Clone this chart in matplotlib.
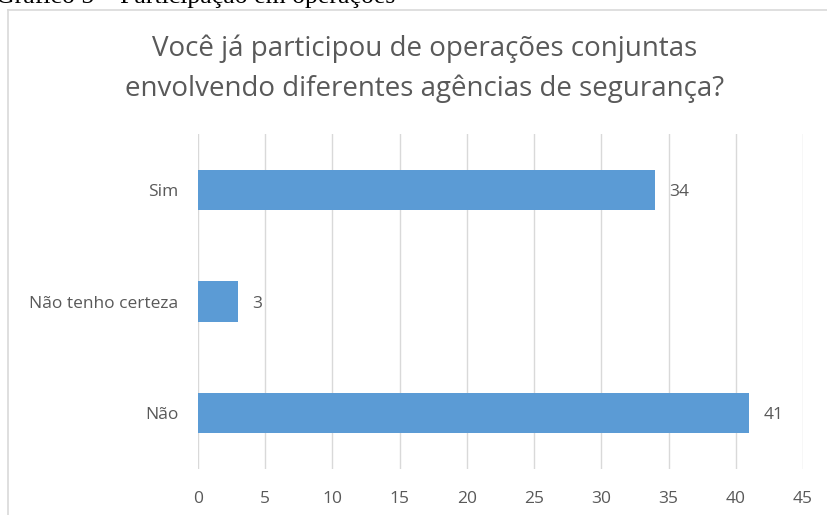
import matplotlib.pyplot as plt
from matplotlib.lines import Line2D

# dados do gráfico
categorias = ['Não', 'Não tenho certeza', 'Sim']
valores = [41, 3, 34]
ticks_x = [0, 5, 10, 15, 20, 25, 30, 35, 40, 45]

cinza = '#595959'
azul = '#5B9BD5'

fig = plt.figure(figsize=(8.27, 5.15), dpi=100)
ax = fig.add_axes([198 / 827, 1 - 469 / 515, (803 - 198) / 827, (469 - 134) / 515])

ax.barh(categorias, valores, height=0.36, color=azul, zorder=3)
for i, v in enumerate(valores):
    ax.text(v + 1.05, i, str(v), va='center_baseline', ha='left', fontsize=12.5,
            color=cinza, family='Open Sans')

ax.set_xlim(0, 45)
ax.set_ylim(-0.5, 2.5)
ax.set_xticks(ticks_x)
ax.grid(axis='x', color='#d9d9d9', linewidth=1, zorder=0)
for s in ax.spines.values():
    s.set_visible(False)
ax.tick_params(axis='both', length=0, colors=cinza, labelsize=12.5)
ax.tick_params(axis='y', pad=14)
ax.tick_params(axis='x', pad=16)
for lbl in ax.get_xticklabels():
    lbl.set_family('Open Sans')
for lbl in ax.get_yticklabels():
    lbl.set_family('Open Sans')
    lbl.set_va('center_baseline')

# titulo do grafico
fig.text(0.513, 1 - 49 / 515, 'Você já participou de operações conjuntas',
         ha='center', va='center', fontsize=20, color=cinza, family='Open Sans')
fig.text(0.513, 1 - 89 / 515, 'envolvendo diferentes agências de segurança?',
         ha='center', va='center', fontsize=20, color=cinza, family='Open Sans')

# borda da area do grafico (cortada na imagem)
fig.add_artist(Line2D([8 / 827, 8 / 827], [0, 1 - 10 / 515], color='#d9d9d9', lw=1.2))
fig.add_artist(Line2D([8 / 827, 1], [1 - 10 / 515, 1 - 10 / 515], color='#d9d9d9', lw=1.2))

# legenda do documento, cortada no topo
fig.text(-0.005, 1 - 3 / 515, 'Gráfico 5 – Participação em operações', ha='left',
         va='baseline', fontsize=18.5, color='black', family='Liberation Serif')

fig.savefig('out.png', dpi=100)
